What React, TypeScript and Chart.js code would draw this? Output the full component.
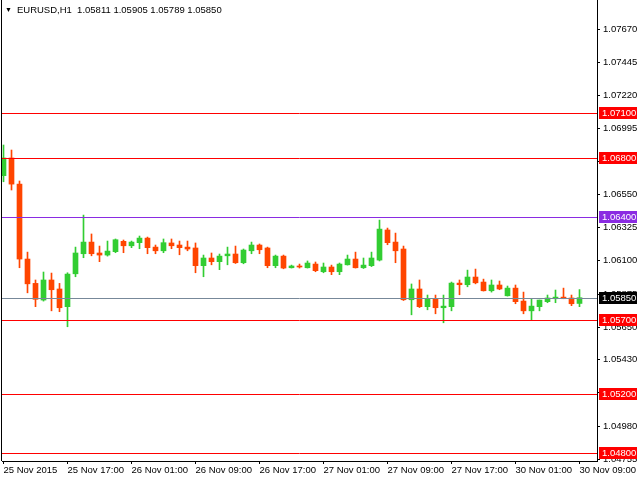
import React, { useEffect, useRef } from "react";
import { Chart, registerables } from "chart.js";

Chart.register(...registerables);

const symbolName = "EURUSD,H1";
const headerValues = ["1.05811", "1.05905", "1.05789", "1.05850"];

const timeLabels = [
  "25 Nov 2015", "25 Nov 17:00", "26 Nov 01:00", "26 Nov 09:00", "26 Nov 17:00",
  "27 Nov 01:00", "27 Nov 09:00", "27 Nov 17:00", "30 Nov 01:00", "30 Nov 09:00",
];
const barsPerLabel = 8;

const opens = [
  1.06677, 1.06797, 1.0662, 1.06112, 1.05947, 1.05834, 1.0597, 1.05909, 1.05789, 1.06012,
  1.06148, 1.06227, 1.06153, 1.06139, 1.06162, 1.06232, 1.06202, 1.06223, 1.06254, 1.06193,
  1.06168, 1.06221, 1.06207, 1.06193, 1.06187, 1.06067, 1.06119, 1.06094, 1.06134, 1.06146,
  1.06087, 1.06168, 1.06207, 1.06187, 1.06067, 1.06132, 1.06053, 1.06065, 1.06053, 1.06078,
  1.06026, 1.06058, 1.06026, 1.06073, 1.06112, 1.06053, 1.06067, 1.06105, 1.06309, 1.06227,
  1.0618, 1.05836, 1.05909, 1.05789, 1.05843, 1.05782, 1.05789, 1.05949, 1.05938, 1.0599,
  1.05956, 1.05897, 1.05936, 1.05863, 1.05915, 1.05827, 1.05761, 1.05789, 1.05823, 1.05843,
  1.05854, 1.05848, 1.05811,
];
const highs = [
  1.06885, 1.06851, 1.06641, 1.06159, 1.0597, 1.06024, 1.06017, 1.05947, 1.06019, 1.06193,
  1.0641, 1.06282, 1.062, 1.06234, 1.06248, 1.06241, 1.06234, 1.06268, 1.06261, 1.06207,
  1.06248, 1.06248, 1.06234, 1.06234, 1.06221, 1.06139, 1.06153, 1.06146, 1.06193, 1.062,
  1.0618, 1.06227, 1.06214, 1.06193, 1.06139, 1.06139, 1.06071, 1.06078, 1.06099, 1.06092,
  1.06085, 1.06071, 1.06085, 1.06139, 1.06159, 1.06119, 1.06159, 1.06376, 1.06322, 1.06288,
  1.062, 1.05943, 1.0597, 1.05868, 1.05868, 1.05868, 1.05956, 1.0597, 1.06037, 1.06044,
  1.05976, 1.0597, 1.05963, 1.05929, 1.05936, 1.05888, 1.05841, 1.05834, 1.05868, 1.05902,
  1.05915, 1.05868, 1.05905,
];
const lows = [
  1.06636, 1.0658, 1.06053, 1.05883, 1.05789, 1.05827, 1.05761, 1.05755, 1.05653, 1.05992,
  1.06121, 1.06134, 1.06094, 1.06132, 1.06155, 1.06155, 1.06189, 1.06182, 1.06148, 1.06148,
  1.06155, 1.06182, 1.06141, 1.06168, 1.06019, 1.05992, 1.06073, 1.0604, 1.06073, 1.06082,
  1.0608, 1.06148, 1.06148, 1.06053, 1.06053, 1.06046, 1.06051, 1.06051, 1.06051, 1.06026,
  1.06019, 1.06006, 1.06006, 1.06071, 1.06051, 1.06048, 1.06061, 1.06099, 1.06209, 1.06087,
  1.05831, 1.05734, 1.05783, 1.05768, 1.05741, 1.0568, 1.05761, 1.0587, 1.05924, 1.05944,
  1.05895, 1.05888, 1.05904, 1.05861, 1.05809, 1.05741, 1.057, 1.05761, 1.05816, 1.05816,
  1.05843, 1.05796, 1.05789,
];
const closes = [
  1.06797, 1.0662, 1.06112, 1.05944, 1.05839, 1.0597, 1.05904, 1.05782, 1.0601, 1.06153,
  1.06227, 1.06148, 1.06139, 1.06166, 1.06243, 1.06202, 1.06227, 1.06254, 1.06189, 1.06168,
  1.06223, 1.06202, 1.06189, 1.0618, 1.06067, 1.06119, 1.06094, 1.06132, 1.06146, 1.06087,
  1.06173, 1.06207, 1.06175, 1.06067, 1.06132, 1.06051, 1.06065, 1.06058, 1.06085, 1.06033,
  1.06058, 1.06026, 1.06078, 1.06112, 1.06053, 1.06071, 1.06119, 1.06315, 1.06223, 1.06168,
  1.05836, 1.05909, 1.05789, 1.05843, 1.05782, 1.05793, 1.05949, 1.05938, 1.0599, 1.05951,
  1.05897, 1.05936, 1.05909, 1.05915, 1.05823, 1.05761, 1.05793, 1.05834, 1.05848, 1.05854,
  1.05843, 1.05809, 1.0585,
];

const priceTicks = [
  1.0767, 1.07445, 1.0722, 1.06995, 1.06775, 1.0655, 1.06325, 1.061, 1.05875, 1.0565,
  1.0543, 1.05205, 1.0498, 1.04755,
];
const levelPrices = [1.071, 1.068, 1.064, 1.057, 1.052, 1.048];
const levelColors = ["#FF0000", "#FF0000", "#8A2BE2", "#FF0000", "#FF0000", "#FF0000"];
const bidPrice = 1.0585;
const bidLineColor = "#778899";
const bidBoxColor = "#000000";

const priceMin = 1.04743;
const priceMax = 1.07868;

const BULL = "#32CD32";
const BEAR = "#FF4500";
const FONT = '"Liberation Sans", Arial, sans-serif';
const FONT_SIZE = 9.5;

export default function App() {
  const canvasRef = useRef<HTMLCanvasElement | null>(null);

  useEffect(() => {
    document.body.style.margin = "0";
    const canvas = canvasRef.current;
    if (!canvas) return;
    const n = opens.length;
    const idx = Array.from({ length: n }, (_, i) => i);
    const colors = idx.map((i) => (closes[i] >= opens[i] ? BULL : BEAR));

    const levelsPlugin = {
      id: "mtLevels",
      afterDatasetsDraw(chart: any) {
        const ctx = chart.ctx as CanvasRenderingContext2D;
        const area = chart.chartArea;
        const ys = chart.scales.y;
        ctx.save();
        ctx.lineWidth = 1;
        const hline = (price: number, color: string) => {
          const y = Math.round(ys.getPixelForValue(price)) + 0.5;
          ctx.strokeStyle = color;
          ctx.beginPath();
          ctx.moveTo(area.left, y);
          ctx.lineTo(area.right, y);
          ctx.stroke();
        };
        levelPrices.forEach((p, k) => hline(p, levelColors[k]));
        hline(bidPrice, bidLineColor);
        ctx.restore();
      },
      afterDraw(chart: any) {
        const ctx = chart.ctx as CanvasRenderingContext2D;
        const area = chart.chartArea;
        const ys = chart.scales.y;
        ctx.save();
        ctx.strokeStyle = "#000";
        ctx.lineWidth = 1;
        ctx.beginPath();
        ctx.moveTo(area.left - 0.5, area.top);
        ctx.lineTo(area.left - 0.5, area.bottom);
        ctx.stroke();
        ctx.font = FONT_SIZE + "px " + FONT;
        ctx.textBaseline = "middle";
        ctx.textAlign = "left";
        const drawBox = (price: number, color: string) => {
          const y = Math.round(ys.getPixelForValue(price));
          ctx.fillStyle = color;
          ctx.fillRect(area.right + 2, y - 6, 38, 12);
          ctx.fillStyle = "#FFFFFF";
          ctx.fillText(price.toFixed(5), area.right + 5, y + 0.5);
        };
        levelPrices.forEach((p, k) => drawBox(p, levelColors[k]));
        drawBox(bidPrice, bidBoxColor);
        ctx.restore();
      },
    };

    const chart = new Chart(canvas, {
      type: "bar",
      data: {
        datasets: [
          {
            type: "bar" as const,
            data: idx.map((i) => ({ x: i, y: [opens[i], closes[i]] })),
            backgroundColor: colors,
            borderWidth: 0,
            barThickness: 5,
            minBarLength: 1,
            grouped: false,
            order: 1,
          },
          {
            type: "bar" as const,
            data: idx.map((i) => ({ x: i, y: [lows[i], highs[i]] })),
            backgroundColor: colors,
            borderWidth: 0,
            barThickness: 1,
            minBarLength: 1,
            grouped: false,
            order: 2,
          },
        ] as any,
      },
      options: {
        animation: false,
        responsive: false,
        devicePixelRatio: 1,
        layout: { padding: { left: 2, top: 0, right: 0, bottom: 0 } },
        plugins: {
          legend: { display: false },
          tooltip: { enabled: false },
        },
        scales: {
          x: {
            type: "linear",
            offset: false,
            min: -0.1875,
            max: 74.1875,
            afterBuildTicks: (scale: any) => {
              scale.ticks = timeLabels.map((_, k) => ({ value: k * barsPerLabel }));
            },
            afterFit: (scale: any) => {
              scale.height = 19;
              scale.paddingLeft = 0;
              scale.paddingRight = 0;
            },
            ticks: {
              autoSkip: false,
              maxRotation: 0,
              minRotation: 0,
              align: "start",
              padding: 1,
              color: "#000",
              font: { family: FONT, size: FONT_SIZE },
              callback: (v: any) => timeLabels[Math.round(Number(v) / barsPerLabel)] ?? "",
            },
            grid: {
              offset: false,
              drawOnChartArea: false,
              drawTicks: true,
              tickLength: 3,
              color: "#000",
            },
            border: { display: true, color: "#000", width: 1 },
          },
          y: {
            type: "linear",
            position: "right",
            min: priceMin,
            max: priceMax,
            afterBuildTicks: (scale: any) => {
              scale.ticks = priceTicks.map((v) => ({ value: v }));
            },
            afterFit: (scale: any) => {
              scale.width = 43;
              scale.paddingTop = 0;
              scale.paddingBottom = 0;
            },
            ticks: {
              padding: 3,
              color: "#000",
              font: { family: FONT, size: FONT_SIZE },
              callback: (v: any) => Number(v).toFixed(5),
            },
            grid: {
              drawOnChartArea: false,
              drawTicks: true,
              tickLength: 3,
              color: "#000",
            },
            border: { display: true, color: "#000", width: 1 },
          },
        },
      } as any,
      plugins: [levelsPlugin],
    });
    return () => chart.destroy();
  }, []);

  return (
    <div style={{ position: "absolute", left: 0, top: 0, width: 640, height: 480, background: "#fff" }}>
      <canvas ref={canvasRef} width={640} height={480} style={{ display: "block" }} />
      <div
        style={{
          position: "absolute",
          left: 5,
          top: 4,
          font: FONT_SIZE + "px " + FONT,
          color: "#000",
          whiteSpace: "pre",
          lineHeight: "12px",
        }}
      >
        <span style={{ fontSize: 7, marginRight: 5, verticalAlign: "1px" }}>▼</span>
        {symbolName + "  " + headerValues.join(" ")}
      </div>
    </div>
  );
}
